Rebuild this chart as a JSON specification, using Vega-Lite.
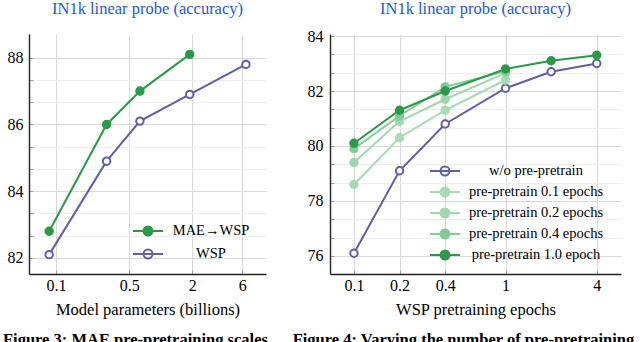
{
  "$schema": "https://vega.github.io/schema/vega-lite/v6.json",
  "autosize": {"type": "pad"},
  "padding": {"left": 3, "top": 0, "right": 0, "bottom": 0},
  "background": "white",
  "config": {
    "font": "Liberation Serif, Times New Roman, DejaVu Serif, serif",
    "view": {"stroke": null},
    "axis": {
      "labelFont": "Liberation Serif, Times New Roman, DejaVu Serif, serif",
      "titleFont": "Liberation Serif, Times New Roman, DejaVu Serif, serif",
      "labelFontSize": 16,
      "titleFontSize": 16.5,
      "labelColor": "#000",
      "titleColor": "#000",
      "titleFontWeight": "normal",
      "domainColor": "#222",
      "domainWidth": 1.4,
      "tickColor": "#a0a0a0",
      "tickSize": -4,
      "gridWidth": 1
    },
    "legend": {
      "labelFont": "Liberation Serif, Times New Roman, DejaVu Serif, serif"
    }
  },
  "title": {
    "text": "Figure 3: MAE pre-pretraining scales\u00a0\u00a0\u00a0\u00a0\u00a0\u00a0Figure 4: Varying the number of pre-pretraining",
    "orient": "bottom",
    "anchor": "start",
    "frame": "bounds",
    "dx": -4,
    "font": "Liberation Serif, Times New Roman, DejaVu Serif, serif",
    "fontSize": 16.5,
    "fontWeight": "bold",
    "color": "#000",
    "offset": 14
  },
  "spacing": 64,
  "bounds": "flush",
  "resolve": {
    "scale": {"stroke": "independent", "fill": "independent", "x": "independent", "y": "independent"},
    "legend": {"stroke": "independent", "fill": "independent"}
  },
  "hconcat": [
    {
      "width": 237,
      "height": 240,
      "title": {"text": "IN1k linear probe (accuracy)", "color": "#1f5ad6", "font": "Liberation Serif, Times New Roman, DejaVu Serif, serif", "fontSize": 16.5, "fontWeight": "normal", "offset": 17, "anchor": "middle"},
      "data": {"values": [
        {"params": 0.086, "series": "WSP", "acc": 82.1},
        {"params": 0.304, "series": "WSP", "acc": 84.9},
        {"params": 0.632, "series": "WSP", "acc": 86.1},
        {"params": 1.89, "series": "WSP", "acc": 86.9},
        {"params": 6.5, "series": "WSP", "acc": 87.8},
        {"params": 0.086, "series": "MAE→WSP", "acc": 82.8},
        {"params": 0.304, "series": "MAE→WSP", "acc": 86.0},
        {"params": 0.632, "series": "MAE→WSP", "acc": 87.0},
        {"params": 1.89, "series": "MAE→WSP", "acc": 88.1}
      ]},
      "encoding": {
        "x": {"field": "params", "type": "quantitative",
          "scale": {"type": "log", "domain": [0.0552, 10.1], "nice": false},
          "axis": {"title": "Model parameters (billions)", "values": [0.1, 0.5, 2, 6], "format": "~g", "grid": true, "gridColor": "#dadada", "labelPadding": 7, "titlePadding": 8}},
        "y": {"field": "acc", "type": "quantitative",
          "scale": {"domain": [81.52, 88.71], "nice": false, "zero": false},
          "axis": {"title": null,
            "values": [82, 82.6667, 83.3333, 84, 84.6667, 85.3333, 86, 86.6667, 87.3333, 88],
            "labelExpr": "abs(datum.value - round(datum.value)) < 0.01 ? format(datum.value, 'd') : ''",
            "gridColor": {"condition": {"test": "abs(datum.value - round(datum.value)) < 0.01", "value": "#dadada"}, "value": "#efefef"},
            "labelPadding": 10}}
      },
      "layer": [
        {"mark": {"type": "line", "strokeWidth": 2},
         "encoding": {"stroke": {"field": "series", "type": "nominal", "scale": {"domain": ["MAE→WSP", "WSP"], "range": ["#2b9a48", "#5f5fa6"]},
           "legend": {"title": null, "orient": "none", "legendX": 106.5, "legendY": 184.5, "symbolType": "M-1.3,0L1.3,0M-0.39,0A0.39,0.39,0,1,0,0.39,0A0.39,0.39,0,1,0,-0.39,0Z", "symbolSize": 529, "symbolStrokeWidth": 2, "symbolOpacity": 1, "labelFontSize": 14.5, "labelColor": "#000", "labelAlign": "center", "labelOffset": 50.5, "rowPadding": 2, "padding": 0}}}},
        {"mark": {"type": "point", "filled": true, "size": 55, "strokeWidth": 2, "opacity": 1},
         "encoding": {
           "stroke": {"field": "series", "type": "nominal", "scale": {"domain": ["MAE→WSP", "WSP"], "range": ["#2b9a48", "#5f5fa6"]},
             "legend": {"title": null, "orient": "none", "legendX": 106.5, "legendY": 184.5, "symbolType": "M-1.3,0L1.3,0M-0.39,0A0.39,0.39,0,1,0,0.39,0A0.39,0.39,0,1,0,-0.39,0Z", "symbolSize": 529, "symbolStrokeWidth": 2, "symbolOpacity": 1, "labelFontSize": 14.5, "labelColor": "#000", "labelAlign": "center", "labelOffset": 50.5, "rowPadding": 2, "padding": 0}},
           "fill": {"field": "series", "type": "nominal", "scale": {"domain": ["MAE→WSP", "WSP"], "range": ["#2b9a48", "#ffffff"]},
             "legend": {"title": null, "orient": "none", "legendX": 106.5, "legendY": 184.5, "symbolType": "M-1.3,0L1.3,0M-0.39,0A0.39,0.39,0,1,0,0.39,0A0.39,0.39,0,1,0,-0.39,0Z", "symbolSize": 529, "symbolStrokeWidth": 2, "symbolOpacity": 1, "labelFontSize": 14.5, "labelColor": "#000", "labelAlign": "center", "labelOffset": 50.5, "rowPadding": 2, "padding": 0}}
         }}
      ]
    },
    {
      "width": 291,
      "height": 240,
      "title": {"text": "IN1k linear probe (accuracy)", "color": "#1f5ad6", "font": "Liberation Serif, Times New Roman, DejaVu Serif, serif", "fontSize": 16.5, "fontWeight": "normal", "offset": 11, "anchor": "middle"},
      "data": {"values": [
        {"epochs": 0.1, "setting": "w/o pre-pretrain", "acc": 76.1},
        {"epochs": 0.2, "setting": "w/o pre-pretrain", "acc": 79.1},
        {"epochs": 0.4, "setting": "w/o pre-pretrain", "acc": 80.8},
        {"epochs": 1, "setting": "w/o pre-pretrain", "acc": 82.1},
        {"epochs": 2, "setting": "w/o pre-pretrain", "acc": 82.7},
        {"epochs": 4, "setting": "w/o pre-pretrain", "acc": 83.0},
        {"epochs": 0.1, "setting": "pre-pretrain 0.1 epochs", "acc": 78.6},
        {"epochs": 0.2, "setting": "pre-pretrain 0.1 epochs", "acc": 80.3},
        {"epochs": 0.4, "setting": "pre-pretrain 0.1 epochs", "acc": 81.3},
        {"epochs": 1, "setting": "pre-pretrain 0.1 epochs", "acc": 82.4},
        {"epochs": 0.1, "setting": "pre-pretrain 0.2 epochs", "acc": 79.4},
        {"epochs": 0.2, "setting": "pre-pretrain 0.2 epochs", "acc": 80.9},
        {"epochs": 0.4, "setting": "pre-pretrain 0.2 epochs", "acc": 81.7},
        {"epochs": 1, "setting": "pre-pretrain 0.2 epochs", "acc": 82.65},
        {"epochs": 0.1, "setting": "pre-pretrain 0.4 epochs", "acc": 79.9},
        {"epochs": 0.2, "setting": "pre-pretrain 0.4 epochs", "acc": 81.1},
        {"epochs": 0.4, "setting": "pre-pretrain 0.4 epochs", "acc": 82.15},
        {"epochs": 1, "setting": "pre-pretrain 0.4 epochs", "acc": 82.72},
        {"epochs": 0.1, "setting": "pre-pretrain 1.0 epoch", "acc": 80.1},
        {"epochs": 0.2, "setting": "pre-pretrain 1.0 epoch", "acc": 81.3},
        {"epochs": 0.4, "setting": "pre-pretrain 1.0 epoch", "acc": 82.0},
        {"epochs": 1, "setting": "pre-pretrain 1.0 epoch", "acc": 82.8},
        {"epochs": 2, "setting": "pre-pretrain 1.0 epoch", "acc": 83.1},
        {"epochs": 4, "setting": "pre-pretrain 1.0 epoch", "acc": 83.3}
      ]},
      "encoding": {
        "x": {"field": "epochs", "type": "quantitative",
          "scale": {"type": "log", "domain": [0.0695, 5.78], "nice": false},
          "axis": {"title": "WSP pretraining epochs", "values": [0.1, 0.2, 0.4, 1, 4], "format": "~g", "grid": true, "gridColor": "#dadada", "labelPadding": 7, "titlePadding": 8}},
        "y": {"field": "acc", "type": "quantitative",
          "scale": {"domain": [75.345, 84.073], "nice": false, "zero": false},
          "axis": {"title": null,
            "values": [76, 76.6667, 77.3333, 78, 78.6667, 79.3333, 80, 80.6667, 81.3333, 82, 82.6667, 83.3333, 84],
            "labelExpr": "abs(datum.value - round(datum.value)) < 0.01 ? format(datum.value, 'd') : ''",
            "gridColor": {"condition": {"test": "abs(datum.value - round(datum.value)) < 0.01", "value": "#dadada"}, "value": "#efefef"},
            "labelPadding": 11}}
      },
      "layer": [
        {"mark": {"type": "line", "strokeWidth": 2},
         "encoding": {"stroke": {"field": "setting", "type": "nominal",
           "scale": {"domain": ["w/o pre-pretrain", "pre-pretrain 0.1 epochs", "pre-pretrain 0.2 epochs", "pre-pretrain 0.4 epochs", "pre-pretrain 1.0 epoch"], "range": ["#5f5fa6", "#a6dbb4", "#a0d8ae", "#82cb96", "#2b9a48"]},
           "legend": {"title": null, "orient": "none", "legendX": 102.5, "legendY": 124.5, "symbolType": "M-1.3,0L1.3,0M-0.39,0A0.39,0.39,0,1,0,0.39,0A0.39,0.39,0,1,0,-0.39,0Z", "symbolSize": 529, "symbolStrokeWidth": 2, "symbolOpacity": 1, "labelFontSize": 14.5, "labelColor": "#000", "labelAlign": "center", "labelOffset": 78.5, "rowPadding": -1, "padding": 0}}}},
        {"mark": {"type": "point", "filled": true, "size": 55, "strokeWidth": 2, "opacity": 1},
         "encoding": {
           "stroke": {"field": "setting", "type": "nominal",
             "scale": {"domain": ["w/o pre-pretrain", "pre-pretrain 0.1 epochs", "pre-pretrain 0.2 epochs", "pre-pretrain 0.4 epochs", "pre-pretrain 1.0 epoch"], "range": ["#5f5fa6", "#a6dbb4", "#a0d8ae", "#82cb96", "#2b9a48"]},
             "legend": {"title": null, "orient": "none", "legendX": 102.5, "legendY": 124.5, "symbolType": "M-1.3,0L1.3,0M-0.39,0A0.39,0.39,0,1,0,0.39,0A0.39,0.39,0,1,0,-0.39,0Z", "symbolSize": 529, "symbolStrokeWidth": 2, "symbolOpacity": 1, "labelFontSize": 14.5, "labelColor": "#000", "labelAlign": "center", "labelOffset": 78.5, "rowPadding": -1, "padding": 0}},
           "fill": {"field": "setting", "type": "nominal",
             "scale": {"domain": ["w/o pre-pretrain", "pre-pretrain 0.1 epochs", "pre-pretrain 0.2 epochs", "pre-pretrain 0.4 epochs", "pre-pretrain 1.0 epoch"], "range": ["#ffffff", "#a6dbb4", "#a0d8ae", "#82cb96", "#2b9a48"]},
             "legend": {"title": null, "orient": "none", "legendX": 102.5, "legendY": 124.5, "symbolType": "M-1.3,0L1.3,0M-0.39,0A0.39,0.39,0,1,0,0.39,0A0.39,0.39,0,1,0,-0.39,0Z", "symbolSize": 529, "symbolStrokeWidth": 2, "symbolOpacity": 1, "labelFontSize": 14.5, "labelColor": "#000", "labelAlign": "center", "labelOffset": 78.5, "rowPadding": -1, "padding": 0}}
         }}
      ]
    }
  ]
}
